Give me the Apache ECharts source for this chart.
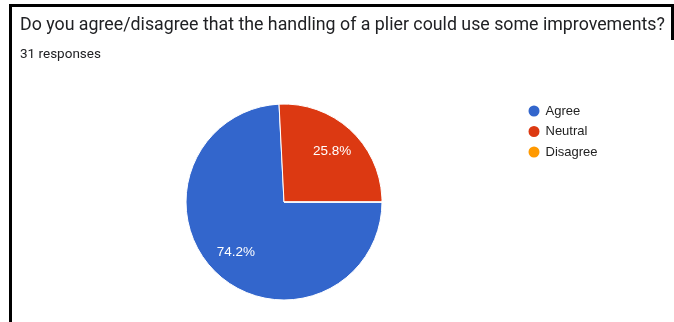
<!DOCTYPE html>
<html>
<head>
<meta charset="utf-8">
<script src="https://cdn.jsdelivr.net/npm/echarts@6/dist/echarts.min.js"></script>
<style>
html,body{margin:0;padding:0;background:#fff;}
#chart{width:674px;height:322px;}
</style>
</head>
<body>
<div id="chart"></div>
<script>
const titleText = 'Do you agree/disagree that the handling of a plier could use some improvements?';
const subtitleText = '31 responses';
const categories = ['Agree', 'Neutral', 'Disagree'];
const counts = [23, 8, 0];
const colors = ['#3366cc', '#dc3912', '#ff9900'];

const pieData = categories.map((c, i) => ({ name: c, value: counts[i], itemStyle: { color: colors[i] } }));
const labelData = categories.map((c, i) => ({ name: c, value: counts[i] }));

const chart = echarts.init(document.getElementById('chart'));
chart.setOption({
  animation: false,
  title: [
    { text: titleText, left: 15, top: 12, textStyle: { fontFamily: 'Roboto', fontSize: 17.8, fontWeight: 'normal', color: '#202124' } },
    { text: subtitleText, left: 15, top: 43, textStyle: { fontFamily: 'Roboto', fontSize: 13.5, fontWeight: 'normal', color: '#202124' } }
  ],
  legend: {
    orient: 'vertical',
    left: 521.5, top: 98.5,
    icon: 'circle', itemWidth: 13, itemHeight: 13, itemGap: 5.5,
    data: categories,
    textStyle: { fontFamily: 'Arial', fontSize: 13, color: '#222222' }
  },
  graphic: [
    { type: 'rect', shape: { x: 9, y: 4, width: 665, height: 3 }, style: { fill: '#000' }, silent: true },
    { type: 'rect', shape: { x: 9, y: 4, width: 3, height: 318 }, style: { fill: '#000' }, silent: true },
    { type: 'rect', shape: { x: 671, y: 4, width: 3, height: 36 }, style: { fill: '#000' }, silent: true }
  ],
  series: [
    {
      type: 'pie', center: [284, 202], radius: 98, startAngle: 0, clockwise: true,
      percentPrecision: 1, silent: true,
      itemStyle: { borderColor: '#ffffff', borderWidth: 1 },
      label: { show: false }, labelLine: { show: false },
      data: pieData
    },
    {
      type: 'pie', center: [284, 202], radius: [36, 98], startAngle: 0, clockwise: true,
      percentPrecision: 1, silent: true, z: 3,
      itemStyle: { color: 'rgba(0,0,0,0)' },
      label: {
        show: true, position: 'inside', color: '#ffffff', fontFamily: 'Arial', fontSize: 13.5,
        formatter: p => p.value > 0 ? p.percent.toFixed(1) + '%' : ''
      },
      labelLine: { show: false },
      data: labelData
    }
  ]
});
</script>
</body>
</html>
